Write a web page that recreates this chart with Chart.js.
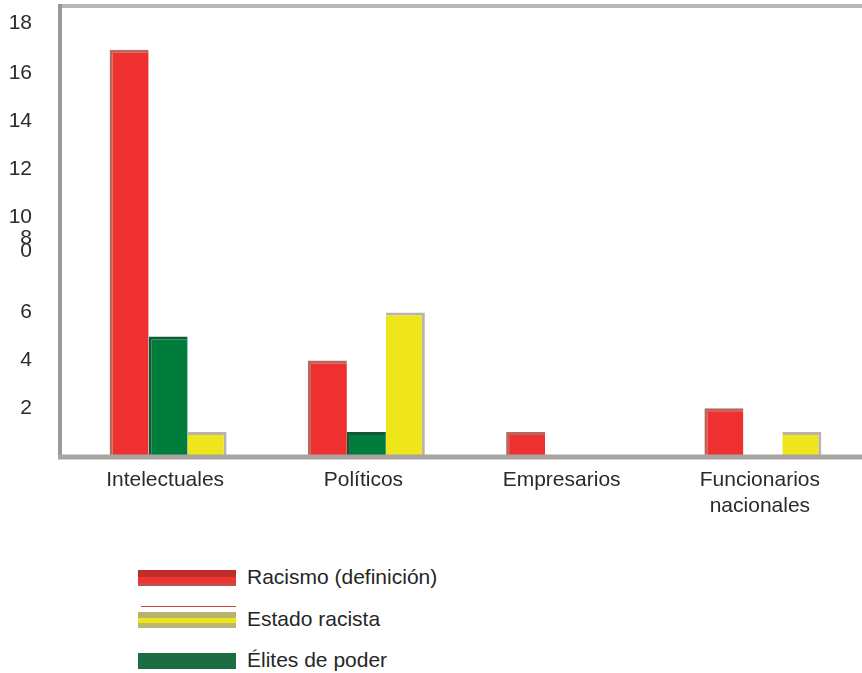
<!DOCTYPE html>
<html>
<head>
<meta charset="utf-8">
<script src="https://cdn.jsdelivr.net/npm/chart.js@4/dist/chart.umd.min.js"></script>
<style>
  html, body { margin: 0; padding: 0; background: #ffffff; }
  #wrap { position: relative; width: 862px; height: 673px; }
  #c { position: absolute; left: 0; top: 0; }
  .leg { position: absolute; left: 138px; font-family: "Liberation Sans", Arial, sans-serif; font-size: 21px; color: #262626; }
  .sw { position: absolute; left: 0; width: 98px; height: 16px; }
  .lt { position: absolute; left: 109px; top: -5px; white-space: nowrap; }
</style>
</head>
<body>
<div id="wrap">
  <canvas id="c" width="862" height="540"></canvas>
  <div id="legend"></div>
</div>
<script>
// ---- data ----
const categories = ['Intelectuales', 'Políticos', 'Empresarios', ['Funcionarios', 'nacionales']];
const seriesNames = ['Racismo (definición)', 'Élites de poder', 'Estado racista'];
const racismo = [17, 4, 1, 2];
const elites = [5, 1, 0, 0];
const estado = [1, 6, 0, 1];
const tickValues = [2, 4, 6, 8.55, 9.1, 10, 12, 14, 16, 18.1];
const tickLabels = ['2', '4', '6', '0', '8', '10', '12', '14', '16', '18'];
const legendOrder = ['Racismo (definición)', 'Estado racista', 'Élites de poder'];

const FONT = '"Liberation Sans", Arial, sans-serif';

const frame = {
  id: 'frame',
  afterDraw(chart) {
    const { ctx, chartArea } = chart;
    ctx.save();
    // top line
    ctx.strokeStyle = '#bcb6b2';
    ctx.lineWidth = 4;
    ctx.beginPath();
    ctx.moveTo(58, chartArea.top);
    ctx.lineTo(chartArea.right, chartArea.top);
    ctx.stroke();
    // left axis
    ctx.strokeStyle = '#9c9896';
    ctx.beginPath();
    ctx.moveTo(60, chartArea.top - 2);
    ctx.lineTo(60, chartArea.bottom + 3);
    ctx.stroke();
    // baseline
    ctx.strokeStyle = '#a8a4a2';
    ctx.lineWidth = 5;
    ctx.beginPath();
    ctx.moveTo(58, chartArea.bottom + 1);
    ctx.lineTo(chartArea.right, chartArea.bottom + 1);
    ctx.stroke();
    ctx.restore();
  }
};

const chart = new Chart(document.getElementById('c'), {
  type: 'bar',
  data: {
    labels: categories,
    datasets: [
      { label: seriesNames[0], data: racismo, backgroundColor: '#ee3030', borderColor: '#b8675c',
        borderWidth: { top: 3, left: 3, right: 0, bottom: 0 }, borderSkipped: 'bottom' },
      { label: seriesNames[1], data: elites, backgroundColor: '#007d3c', borderColor: '#0f5a34',
        borderWidth: { top: 3, left: 3, right: 0, bottom: 0 }, borderSkipped: 'bottom' },
      { label: seriesNames[2], data: estado, backgroundColor: '#eee61a', borderColor: '#bab4ac',
        borderWidth: { top: 3, left: 0, right: 3, bottom: 0 }, borderSkipped: 'bottom' }
    ]
  },
  options: {
    responsive: false,
    animation: false,
    devicePixelRatio: 1,
    layout: { autoPadding: false, padding: { top: 6, right: 0, bottom: 0, left: 0 } },
    plugins: { legend: { display: false }, tooltip: { enabled: false }, title: { display: false } },
    datasets: { bar: { categoryPercentage: 0.59, barPercentage: 1 } },
    scales: {
      x: {
        grid: { display: false, drawTicks: false },
        border: { display: false },
        ticks: { font: { family: FONT, size: 21 }, color: '#2a2a2a', padding: 12, maxRotation: 0, autoSkip: false, labelOffset: -3 },
        afterFit(scale) { scale.height = 84; scale.paddingLeft = 0; scale.paddingRight = 0; }
      },
      y: {
        min: 0,
        max: 18.83,
        grid: { display: false, drawTicks: false },
        border: { display: false },
        afterBuildTicks(scale) { scale.ticks = tickValues.map(v => ({ value: v })); },
        ticks: {
          font: { family: FONT, size: 21 }, color: '#2a2a2a', padding: 37,
          callback: (v, i) => tickLabels[i]
        },
        afterFit(scale) { scale.width = 69; scale.paddingTop = 0; scale.paddingBottom = 0; }
      }
    }
  },
  plugins: [frame]
});

// ---- HTML legend built from chart datasets ----
const swatchStyles = {
  'Racismo (definición)': 'linear-gradient(to bottom, #c02c2a 0 45%, #ee3333 45% 80%, #c4504a 80% 100%)',
  'Estado racista': 'linear-gradient(to bottom, #b8b36a 0 35%, #ece61c 35% 70%, #bcb775 70% 100%)',
  'Élites de poder': 'linear-gradient(to bottom, #1c6e42 0 100%)'
};
const rowsTop = [570, 612, 653];
const legendEl = document.getElementById('legend');
legendOrder.forEach((name, i) => {
  const ds = chart.data.datasets.find(d => d.label === name);
  const row = document.createElement('div');
  row.className = 'leg';
  row.style.top = rowsTop[i] + 'px';
  const sw = document.createElement('div');
  sw.className = 'sw';
  sw.style.background = swatchStyles[name] || ds.backgroundColor;
  const t = document.createElement('div');
  t.className = 'lt';
  t.textContent = ds.label;
  row.appendChild(sw);
  row.appendChild(t);
  if (name === 'Estado racista') {
    const ln = document.createElement('div');
    ln.style.cssText = 'position:absolute;left:3px;top:-6px;width:95px;height:1px;background:#c8463c;';
    row.appendChild(ln);
  }
  legendEl.appendChild(row);
});
</script>
</body>
</html>
